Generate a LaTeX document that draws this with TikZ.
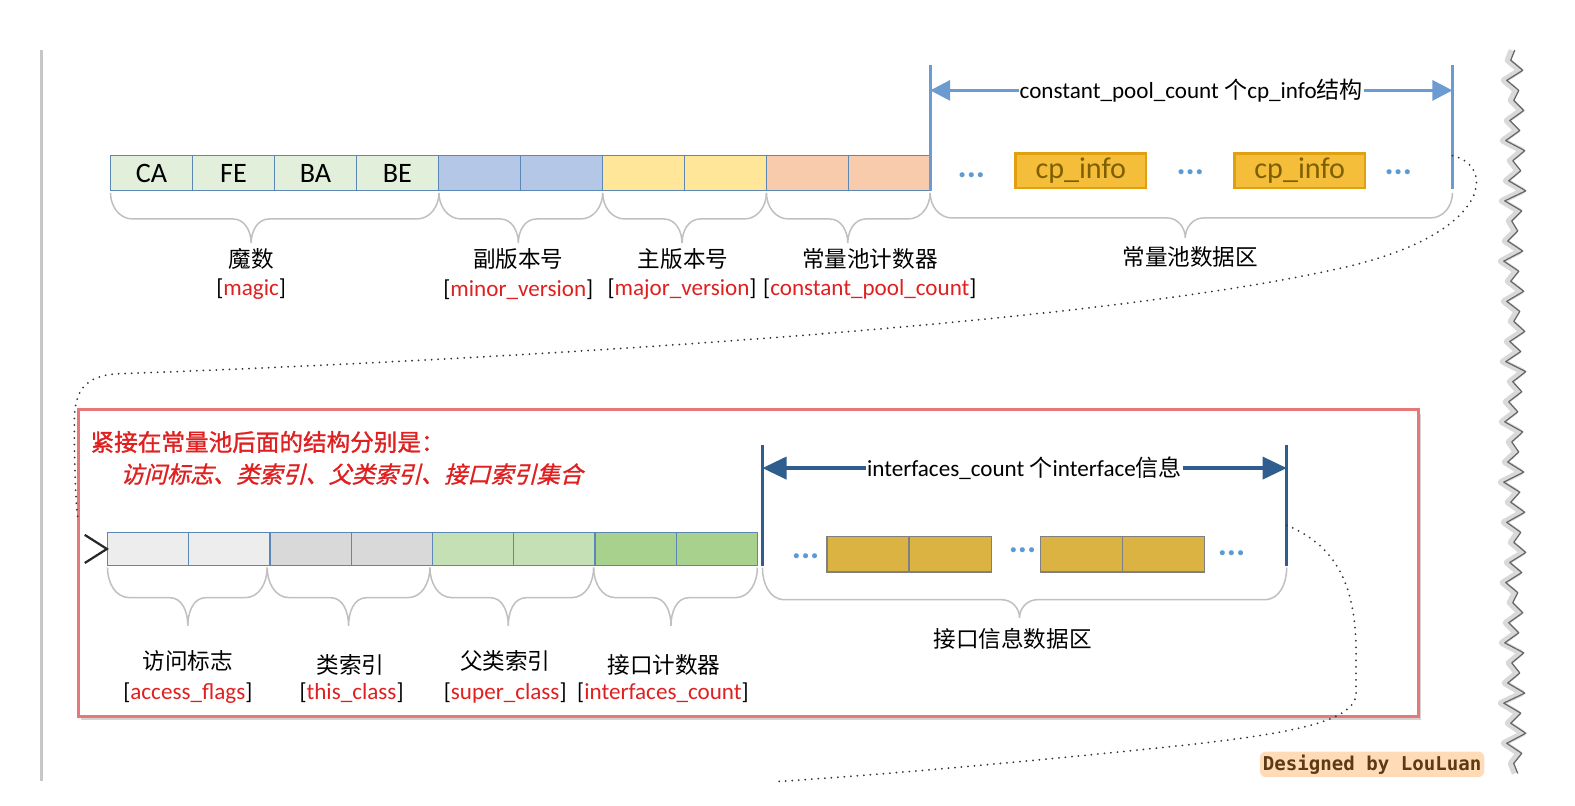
\documentclass[tikz,border=0pt]{standalone}
\usepackage{fontspec}
\setmainfont{Carlito}
\newfontfamily\cjk{Noto Sans CJK SC}
\newfontfamily\cjkbold[FakeBold=1.2]{Noto Sans CJK SC}
\newfontfamily\cjkslant[FakeSlant=0.25,FakeBold=1]{Noto Sans CJK SC}
\newfontfamily\signfont{DejaVu Sans Mono}
\usetikzlibrary{arrows.meta,shadows,positioning}

\definecolor{cellline}{HTML}{5B87B6}
\definecolor{cmagic}{HTML}{E2EFDA}
\definecolor{cminor}{HTML}{B4C7E7}
\definecolor{cmajor}{HTML}{FFE699}
\definecolor{ccount}{HTML}{F8CBAD}
\definecolor{cpfill}{HTML}{F4BE3A}
\definecolor{cpline}{HTML}{E0A010}
\definecolor{cptext}{HTML}{7F6000}
\definecolor{dimblue}{HTML}{6C9BD2}
\definecolor{dimdark}{HTML}{2F5E8E}
\definecolor{dotblue}{HTML}{5B9BD5}
\definecolor{cacc}{HTML}{EDEDED}
\definecolor{cthis}{HTML}{D9D9D9}
\definecolor{csuper}{HTML}{C5E0B4}
\definecolor{cifc}{HTML}{A9D18E}
\definecolor{ifcfill}{HTML}{DAB343}
\definecolor{tagred}{HTML}{E02020}
\definecolor{boxred}{HTML}{E87878}
\definecolor{bracegray}{HTML}{C0C0C0}
\definecolor{signbrown}{HTML}{5C3A12}

\tikzset{
  cell/.style   = {draw=cellline, line width=1.2pt, inner sep=0pt,
                   minimum width=81.6pt, minimum height=35pt,
                   font=\fontsize{28}{30}\selectfont},
  lowcell/.style = {cell, minimum width=80.9pt, minimum height=33pt},
  cpbox/.style  = {draw=cpline, fill=cpfill, line width=2.5pt, text=cptext,
                   minimum width=130pt, minimum height=34pt, inner sep=0pt,
                   font=\fontsize{30}{32}\selectfont},
  ifcbox/.style = {draw=black!50, fill=ifcfill, line width=1.2pt,
                   minimum width=81.5pt, minimum height=35pt, inner sep=0pt},
  dots/.style   = {text=dotblue, font=\bfseries\fontsize{34}{36}\selectfont,
                   inner sep=0pt},
  zh/.style     = {font=\cjk\fontsize{22.5}{25}\selectfont, inner sep=0pt},
  tag/.style    = {font=\fontsize{23}{25}\selectfont, inner sep=0pt},
  brace/.style  = {draw=bracegray, line width=1.5pt},
  dimtop/.style = {dimblue, line width=3pt},
  dimlow/.style = {dimdark, line width=3.5pt},
  dimlbl/.style = {fill=white, inner sep=1pt, text=black,
                   font=\fontsize{23}{26}\selectfont},
  link/.style   = {line width=2pt, line cap=round, dash pattern=on 0pt off 6.5pt,
                   black!80},
  note/.style   = {anchor=west, text=tagred, inner sep=0pt},
  tear/.style   = {line join=round}
}

% brace under a row: x1, x2, tip x, top y, depth to bar, depth to tip
\newcommand{\ubrace}[6]{%
  \draw[brace] (#1,#4) to[out=-90,in=180] (#1+22,#4+#5) -- (#3-18,#4+#5)
    to[out=0,in=90] (#3,#4+#5+#6) to[out=90,in=180] (#3+18,#4+#5)
    -- (#2-22,#4+#5) to[out=0,in=-90] (#2,#4);}
% torn right edge of the page
\newcommand{\tornedge}{(1508,50)
    \foreach \k in {1,...,36} { -- ({1497+mod(\k*7,11)},{40+\k*20}) -- ({1511+mod(\k*5,9)},{50+\k*20}) }}

\begin{document}
\begin{tikzpicture}[x=1pt,y=-1pt]
  \useasboundingbox (0,0) rectangle (1568,802);

  % page edges
  \draw[black!22, line width=3pt] (41,50) -- (41,778);
  \draw[tear, black!15, line width=6pt, xshift=-3pt] \tornedge;
  \draw[tear, black!60, line width=1.2pt] \tornedge;

  % red frame of the second part
  \node[draw=boxred, line width=3pt, fill=white, minimum width=1334pt,
        minimum height=305pt, inner sep=0pt,
        drop shadow={shadow xshift=3pt, shadow yshift=-4pt, opacity=0.35}]
        (frame) at (745,560.5) {};

  % first row: magic, versions, constant pool
  \foreach \i/\c/\t in {1/cmagic/CA,2/cmagic/FE,3/cmagic/BA,4/cmagic/BE,
                        5/cminor/,6/cminor/,7/cmajor/,8/cmajor/,9/ccount/,10/ccount/}
    \node[cell, fill=\c] (t\i) at ({110+81.6*(\i-0.5)},172.5) {\t};

  \coordinate (cpL) at (926,65);
  \coordinate (cpR) at (1446,65);
  \coordinate (cpLb) at (926,190);
  \coordinate (cpRb) at (1446,188);
  \draw[dimtop] (cpL) -- (cpLb);
  \draw[dimtop] (cpR) -- (cpRb);
  \draw[dimtop, {Triangle[length=20pt,width=20pt]}-{Triangle[length=20pt,width=20pt]}]
    (926,90) -- node[dimlbl] (cplbl) {constant\_pool\_count {\cjk 个}cp\_info{\cjk 结构}} (1446,90);

  \node[dots] (d1) at (967,174) {...};
  \node[cpbox] (cp1) at (1076,170) {cp\_info};
  \node[dots] (d2) at (1185,171) {...};
  \node[cpbox] (cp2) at (1294,170) {cp\_info};
  \node[dots] (d3) at (1392,171) {...};

  \ubrace{110}{437}{250}{192}{26}{24}
  \ubrace{437}{600}{516}{192}{26}{24}
  \ubrace{600}{763}{679}{192}{26}{24}
  \ubrace{763}{926}{844}{192}{26}{24}
  \ubrace{926}{1446}{1180}{192}{25}{20}

  \node[zh] (magicz) at (250,258) {魔数};
  \node[zh] (minorz) at (516,258) {副版本号};
  \node[zh] (majorz) at (680,258) {主版本号};
  \node[zh] (countz) at (866,258) {常量池计数器};
  \node[zh] (poolz) at (1185,256) {常量池数据区};
  \node[tag] (magict) at (250,288) {[\textcolor{tagred}{magic}]};
  \node[tag] (minort) at (516,288) {[\textcolor{tagred}{minor\_version}]};
  \node[tag] (majort) at (679,288) {[\textcolor{tagred}{major\_version}]};
  \node[tag] (countt) at (866,288) {[\textcolor{tagred}{constant\_pool\_count}]};

  % second row: flags, class indexes, interfaces
  \node[note, font=\cjkbold\fontsize{23.5}{26}\selectfont] (note1) at (90,440)
    {紧接在常量池后面的结构分别是：};
  \node[note, font=\cjkslant\fontsize{23}{26}\selectfont] (note2) at (120,472)
    {访问标志、类索引、父类索引、接口索引集合};

  \foreach \i/\c in {1/cacc,2/cacc,3/cthis,4/cthis,5/csuper,6/csuper,7/cifc,8/cifc}
    \node[lowcell, fill=\c] (b\i) at ({107+80.9*(\i-0.5)},546.5) {};

  \coordinate (ifL) at (759,443);
  \coordinate (ifR) at (1281,443);
  \coordinate (ifLb) at (759,563);
  \coordinate (ifRb) at (1281,563);
  \draw[dimlow] (ifL) -- (ifLb);
  \draw[dimlow] (ifR) -- (ifRb);
  \draw[dimlow, {Triangle[length=24pt,width=22pt]}-{Triangle[length=24pt,width=22pt]}]
    (759,466) -- node[dimlbl] (iflbl) {interfaces\_count {\cjk 个}interface{\cjk 信息}} (1281,466);

  \node[dots] (e1) at (802,554) {...};
  \node[ifcbox] (i1) at (864,552) {};
  \node[ifcbox] (i2) at (946,552) {};
  \node[dots] (e2) at (1018,548) {...};
  \node[ifcbox] (i3) at (1077,552) {};
  \node[ifcbox] (i4) at (1158,552) {};
  \node[dots] (e3) at (1226,551) {...};

  \ubrace{107}{266}{187}{565}{30}{28}
  \ubrace{266}{428}{347}{565}{30}{28}
  \ubrace{428}{591}{506}{565}{30}{28}
  \ubrace{591}{754}{668}{565}{30}{28}
  \ubrace{759}{1281}{1015}{565}{32}{18}

  \node[zh] (accz) at (187,658) {访问标志};
  \node[zh] (thisz) at (349,662) {类索引};
  \node[zh] (superz) at (503,658) {父类索引};
  \node[zh] (ifcz) at (661,662) {接口计数器};
  \node[zh] (ifaz) at (1008,636) {接口信息数据区};
  \node[tag] (acct) at (187,690) {[\textcolor{tagred}{access\_flags}]};
  \node[tag] (thist) at (350,690) {[\textcolor{tagred}{this\_class}]};
  \node[tag] (supert) at (503,690) {[\textcolor{tagred}{super\_class}]};
  \node[tag] (ifct) at (660,690) {[\textcolor{tagred}{interfaces\_count}]};

  % dotted links between the parts
  \coordinate (cpend) at (1446,155);
  \coordinate (ifend) at (1281,523);
  \coordinate (tail) at (775,778);
  \draw[link] (cpend) .. controls (1490,165) and (1485,235) .. (1330,268)
    .. controls (1050,330) and (400,362) .. (120,372)
    .. controls (82,373) and (74,392) .. (74,420)
    .. controls (74,480) and (76,505) .. (78,520);
  \draw[black!85, line width=2.2pt, line join=miter]
    (b1.west) ++(-22,-14) -- (b1.west) -- ++(-22,14);
  \draw[link] (ifend) .. controls (1335,545) and (1350,590) .. (1350,650)
    -- (1350,690) .. controls (1350,725) and (1250,735) .. (1100,750)
    .. controls (950,765) and (850,773) .. (tail);

  % signature
  \node[fill=orange!28, rounded corners=6pt, inner sep=3pt, text=signbrown,
        font=\signfont\bfseries\fontsize{19}{22}\selectfont] (credit) at (1366,761)
    {Designed by LouLuan};
\end{tikzpicture}
\end{document}
